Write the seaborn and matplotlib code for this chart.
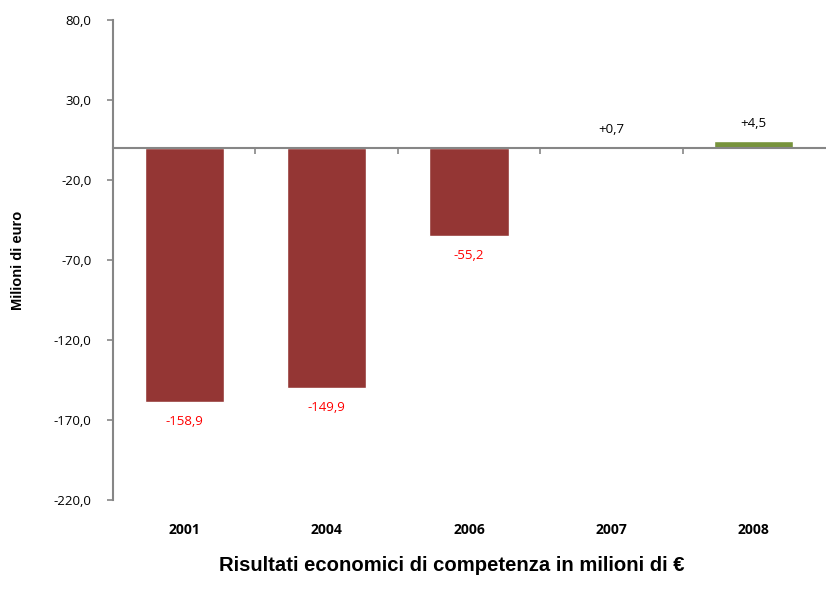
import matplotlib
matplotlib.use('Agg')
import matplotlib.pyplot as plt
import seaborn as sns
import pandas as pd
from matplotlib.ticker import FuncFormatter

anni = ['2001', '2004', '2006', '2007', '2008']
risultati = [-158.9, -149.9, -55.2, 0.7, 4.5]
etichette = ['-158,9', '-149,9', '-55,2', '+0,7', '+4,5']
yticks = [80, 30, -20, -70, -120, -170, -220]

df = pd.DataFrame({'anno': anni, 'valore': risultati})
colori = {a: ('#943634' if v < 0 else '#77933C') for a, v in zip(anni, risultati)}

sns.set_style('white')
plt.rcParams['font.family'] = ['Open Sans', 'DejaVu Sans']
plt.rcParams['text.color'] = 'black'
plt.rcParams['axes.labelcolor'] = 'black'
plt.rcParams['xtick.color'] = 'black'
plt.rcParams['ytick.color'] = 'black'

fig = plt.figure(figsize=(8.26, 6.02), dpi=100)
ax = fig.add_axes([0.1368, 0.1694, 0.862, 0.7974])

sns.barplot(data=df, x='anno', y='valore', hue='anno', palette=colori,
            width=0.555, legend=False, ax=ax, saturation=1)

ax.set_xlim(-0.5, 4.5)
ax.set_ylim(-220, 80)
ax.set_yticks(yticks)
ax.yaxis.set_major_formatter(FuncFormatter(lambda v, p: f'{v:.1f}'.replace('.', ',')))
ax.tick_params(axis='y', length=4.5, width=1.2, color='#868686', labelsize=9.5,
               labelcolor='black', left=True, pad=11)

# asse orizzontale sullo zero
ax.spines['bottom'].set_position(('data', 0))
ax.spines['bottom'].set_color('#868686')
ax.spines['bottom'].set_linewidth(1.5)
ax.spines['left'].set_color('#868686')
ax.spines['left'].set_linewidth(1.5)
ax.spines['right'].set_visible(False)
ax.spines['top'].set_visible(False)
ax.set_xticks(range(len(anni)))
ax.set_xticklabels([])
ax.set_xticks([0.5, 1.5, 2.5, 3.5], minor=True)
ax.tick_params(axis='x', which='major', length=0)
ax.tick_params(axis='x', which='minor', length=4, width=1.2, color='#868686',
               bottom=True, direction='out')

for i, (v, t) in enumerate(zip(risultati, etichette)):
    if v < 0:
        ax.text(i, v - 12, t, ha='center', va='center', color='#FF0000', fontsize=9.5)
    else:
        ax.text(i, v + 11, t, ha='center', va='center', color='black', fontsize=9.5)
    ax.text(i, -0.0625, anni[i], transform=ax.get_xaxis_transform(),
            ha='center', va='center', fontsize=10, fontweight='bold', color='black')

ax.set_xlabel('')
ax.set_ylabel('Milioni di euro', fontsize=10.5, fontweight='bold', color='black',
              family=['Liberation Sans Narrow', 'Liberation Sans', 'DejaVu Sans'])
ax.yaxis.set_label_coords(-0.124, 0.5)

fig.text(0.547, 0.06, 'Risultati economici di competenza in milioni di €',
         ha='center', va='center', fontsize=14.6, fontweight='bold', color='black',
         family=['Liberation Sans', 'DejaVu Sans'])

fig.savefig('out.png', dpi=100)
